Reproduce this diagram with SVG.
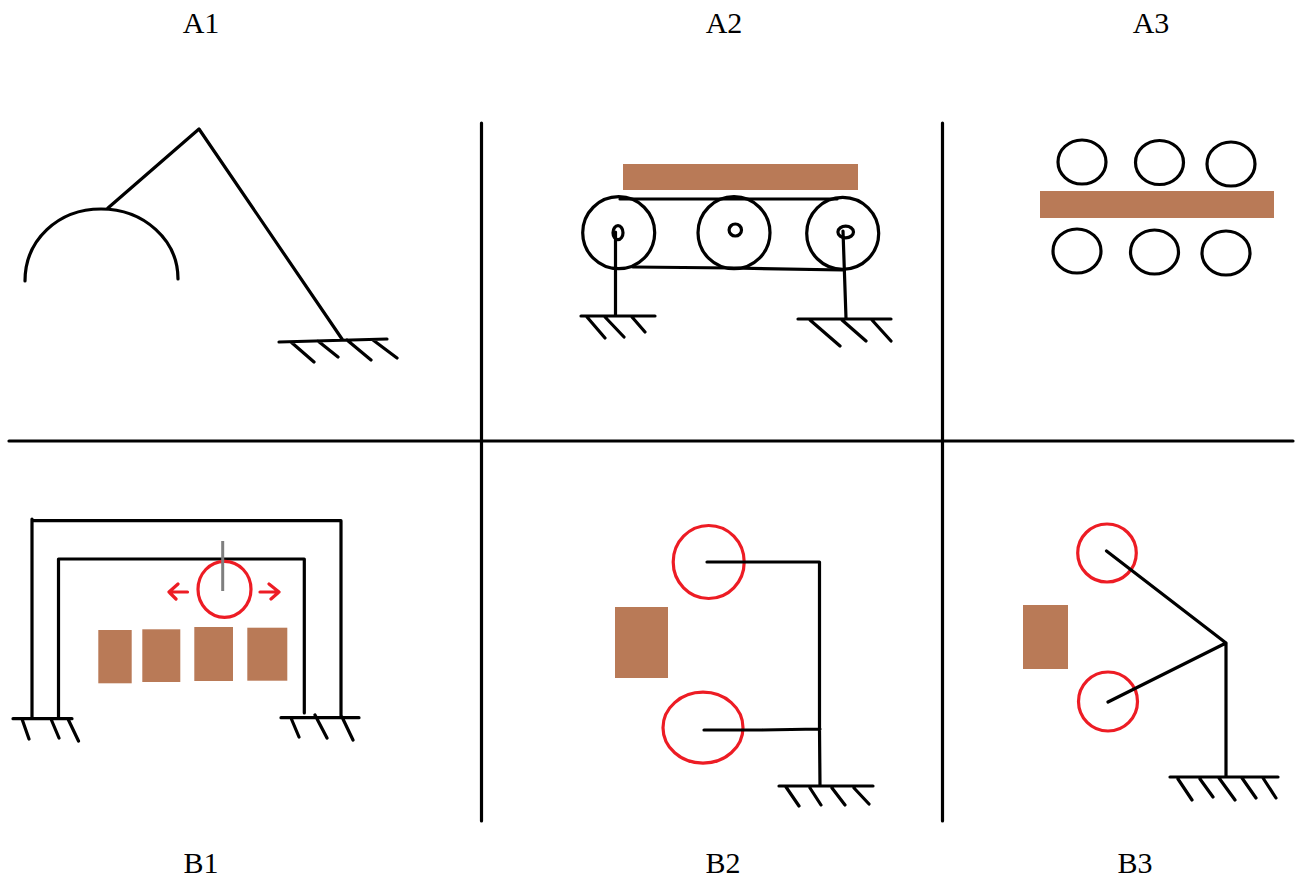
<svg xmlns="http://www.w3.org/2000/svg" width="1304" height="877" viewBox="0 0 1304 877">
<style>
.k{fill:none;stroke:#000;stroke-width:3.2;stroke-linecap:round;stroke-linejoin:round}
.r{fill:none;stroke:#ed1c24;stroke-width:3.2;stroke-linecap:round;stroke-linejoin:round}
.b{fill:#b97a57}
.g{fill:none;stroke:#7f7f7f;stroke-width:3}
text{font-family:"Liberation Serif","Times New Roman",serif;font-size:30px;text-anchor:middle;fill:#000}
</style>
<rect width="1304" height="877" fill="#fff"/>
<g id="labels">
<text x="201" y="33">A1</text><text x="724" y="33">A2</text><text x="1151" y="33">A3</text>
<text x="201" y="873">B1</text><text x="723" y="873">B2</text><text x="1135" y="873">B3</text>
</g>
<g id="connectors">
<path class="k" d="M481.500 123V821M942.500 123V821M9 441H1293"/>
</g>
<g id="A1">
<path class="k" d="M25 281C25 240 58 209 101 209C144 209 178 240 178 279M108 208L199 129L342 339M279 342L387 339M291 342L314 362M318 341L338 357M347 340L371 360M373 340L397 358"/>
</g>
<g id="A2">
<rect class="b" x="623" y="164" width="235" height="26"/>
<g class="k">
<circle cx="618.700" cy="232.700" r="36"/><circle cx="734" cy="232.700" r="36"/><circle cx="842.700" cy="233.300" r="36"/>
<ellipse cx="618" cy="232.700" rx="5" ry="7"/><ellipse cx="735.300" cy="230" rx="6.200" ry="6"/><ellipse cx="845.700" cy="232" rx="7.800" ry="5.800"/>
<path d="M620 199H837M633 267L733 268L843 270M615.500 232V316M843 231L846 318M581 316H655M798 319H891M587 317L605 338M605 317L624 337M632 317L645 332M810 320L840 346M842 320L866 341M872 320L891 341"/>
</g>
</g>
<g id="A3">
<rect class="b" x="1040" y="191" width="234" height="27"/>
<g class="k">
<ellipse cx="1082" cy="162" rx="24" ry="22"/><ellipse cx="1159.500" cy="162.500" rx="24" ry="22"/><ellipse cx="1231" cy="164" rx="24" ry="22"/>
<ellipse cx="1077" cy="251" rx="24" ry="22"/><ellipse cx="1154.500" cy="252" rx="24" ry="22"/><ellipse cx="1226" cy="253" rx="24" ry="22"/>
</g>
</g>
<g id="B1">
<rect class="b" x="98.300" y="630" width="33.400" height="53.300"/><rect class="b" x="142.300" y="629.300" width="38" height="52.700"/><rect class="b" x="194.300" y="627" width="38.700" height="54"/><rect class="b" x="247.300" y="627.700" width="40" height="53"/>
<path class="k" d="M32 519V718M32 520.700H341V716M58.500 559V718M58.500 559H304.300V713M13 718.700H72M281 717.700H359M22 719L29 739M51 719L59 738M68 719L78.500 741M291 718L299 737M315 715L327 738M342 717L353 740"/>
<ellipse class="r" cx="224.500" cy="589.300" rx="26.500" ry="28"/>
<path class="r" d="M187.500 592H169M178 584L169 592L176 599M260 592H279M269 584L279 592L271 599"/>
<path class="g" d="M222.700 541V591"/>
</g>
<g id="B2">
<rect class="b" x="615" y="607" width="53" height="71"/>
<ellipse class="r" cx="708.700" cy="562" rx="35.500" ry="36.500"/><ellipse class="r" cx="703" cy="727.700" rx="40" ry="35.500"/>
<path class="k" d="M707 562H819.500V729L820 786M704 730H762L820 729M779 786H873M786 787L799 806M810 788L821 805M832 788L845 805M854 788L869 804"/>
</g>
<g id="B3">
<rect class="b" x="1023" y="605" width="45" height="64"/>
<ellipse class="r" cx="1107" cy="553" rx="29.300" ry="29"/><circle class="r" cx="1108" cy="701.500" r="29.500"/>
<path class="k" d="M1106.500 551L1226 643V776M1108 702L1226 643M1170 777H1278M1178 779L1192 800M1200 779L1213 797M1219 778L1235 800M1242 778L1256 798M1263 778L1276 798"/>
</g>
</svg>
